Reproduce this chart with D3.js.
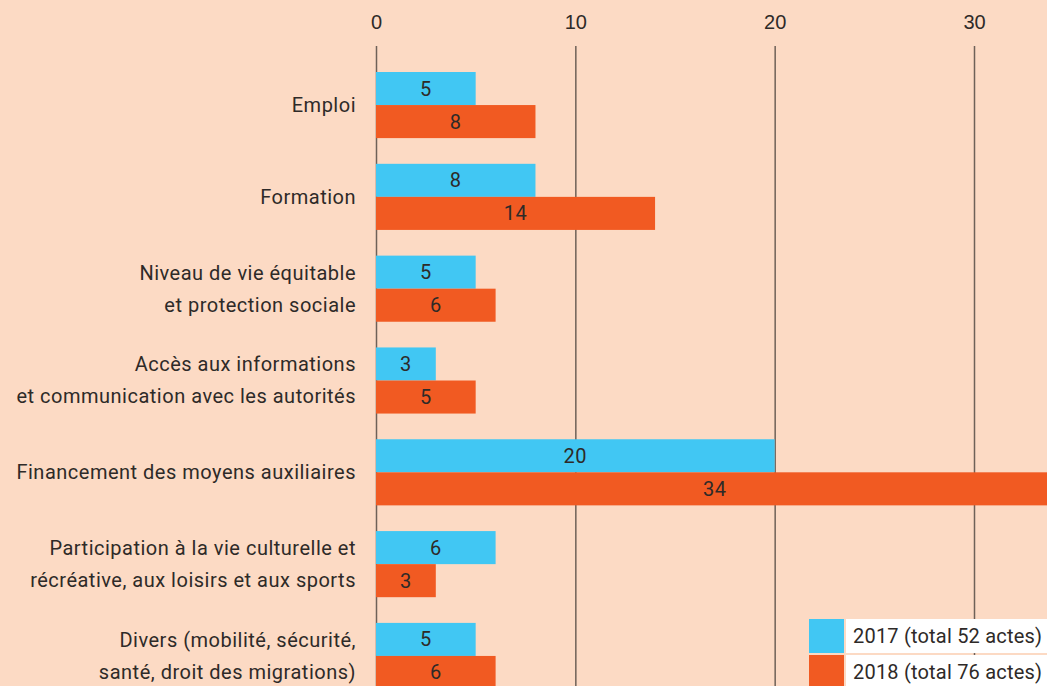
<!DOCTYPE html>
<html lang="fr">
<head>
    <meta charset="UTF-8">
    <title>Actes par domaine 2017-2018</title>
    <style>
        body {
            margin: 0;
            background-color: #fcdac4;
        }

        #chart {
            display: block;
            width: 1047px;
            height: 686px;
            font-family: Roboto, "DejaVu Sans", sans-serif;
        }

        .axis text {
            fill: #2e2a28;
            font-size: 20px;
        }

        .axis line {
            stroke: #6e6158;
            stroke-width: 1.5;
        }

        .label, .value, .legend text {
            fill: #2e2a28;
            font-size: 20px;
            letter-spacing: 0.5px;
        }

        .legend text {
            letter-spacing: 0.2px;
        }
    </style>
</head>
<body>
    <svg id="chart"></svg>

    <script src="https://cdnjs.cloudflare.com/ajax/libs/d3/7.8.5/d3.min.js"></script>
    <script>
        // categories (one entry per line of the label)
        const categories = [
            ['Emploi'],
            ['Formation'],
            ['Niveau de vie équitable', 'et protection sociale'],
            ['Accès aux informations', 'et communication avec les autorités'],
            ['Financement des moyens auxiliaires'],
            ['Participation à la vie culturelle et', 'récréative, aux loisirs et aux sports'],
            ['Divers (mobilité, sécurité,', 'santé, droit des migrations)']
        ];
        const years = ['2017', '2018'];
        const values2017 = [5, 8, 5, 3, 20, 6, 5];
        const values2018 = [8, 14, 6, 5, 34, 3, 6];
        const legendLabels = ['2017 (total 52 actes)', '2018 (total 76 actes)'];
        const tickValues = [0, 10, 20, 30];
        const colors = ['#41c7f3', '#f15a22'];

        const width = 1047, height = 686;
        const svg = d3.select('#chart');

        svg.append('rect')
            .attr('width', width)
            .attr('height', height)
            .attr('fill', '#fcdac4');

        const x = d3.scaleLinear()
            .domain([0, 30])
            .range([376, 974]);

        const catKeys = categories.map((c, i) => i);
        const y = d3.scaleBand()
            .domain(catKeys)
            .range([72, 689])
            .paddingInner(0.28)
            .paddingOuter(0);

        const ySub = d3.scaleBand()
            .domain(years)
            .range([0, y.bandwidth()]);

        // gridlines + top tick labels
        const axisTop = d3.axisTop(x)
            .tickValues(tickValues)
            .tickSize(-(height - 46))
            .tickPadding(17)
            .tickFormat(d3.format('d'));

        svg.append('g')
            .attr('class', 'axis')
            .attr('transform', 'translate(0,46)')
            .call(axisTop)
            .call(g => g.select('.domain').remove());

        // bars
        const series = [values2017, values2018];
        const group = svg.append('g').selectAll('g')
            .data(catKeys)
            .join('g')
            .attr('transform', i => `translate(0,${y(i)})`);

        years.forEach((yr, s) => {
            group.append('rect')
                .attr('x', x(0))
                .attr('y', ySub(yr))
                .attr('width', i => x(series[s][i]) - x(0))
                .attr('height', ySub.bandwidth())
                .attr('fill', colors[s]);

            group.append('text')
                .attr('class', 'value')
                .attr('x', i => (x(series[s][i]) + x(0)) / 2)
                .attr('y', ySub(yr) + ySub.bandwidth() / 2)
                .attr('dy', '0.35em')
                .attr('text-anchor', 'middle')
                .text(i => series[s][i]);
        });

        // category labels
        group.append('text')
            .attr('class', 'label')
            .attr('text-anchor', 'end')
            .each(function (i) {
                const lines = categories[i];
                const mid = y.bandwidth() / 2;
                const lh = 32;
                d3.select(this).selectAll('tspan')
                    .data(lines)
                    .join('tspan')
                    .attr('x', 356)
                    .attr('y', (d, k) => mid + (k - (lines.length - 1) / 2) * lh)
                    .attr('dy', '0.35em')
                    .text(d => d);
            });

        // legend
        const legend = svg.append('g')
            .attr('class', 'legend')
            .attr('transform', 'translate(809,619)');

        const leg = legend.selectAll('g')
            .data(legendLabels)
            .join('g')
            .attr('transform', (d, i) => `translate(0,${i * 36})`);

        leg.append('rect')
            .attr('width', 35)
            .attr('height', 34)
            .attr('fill', (d, i) => colors[i]);

        leg.append('rect')
            .attr('x', 37)
            .attr('width', 240)
            .attr('height', 34)
            .attr('fill', '#ffffff');

        leg.append('text')
            .attr('x', 44)
            .attr('y', 17)
            .attr('dy', '0.35em')
            .text(d => d);
    </script>
</body>
</html>
